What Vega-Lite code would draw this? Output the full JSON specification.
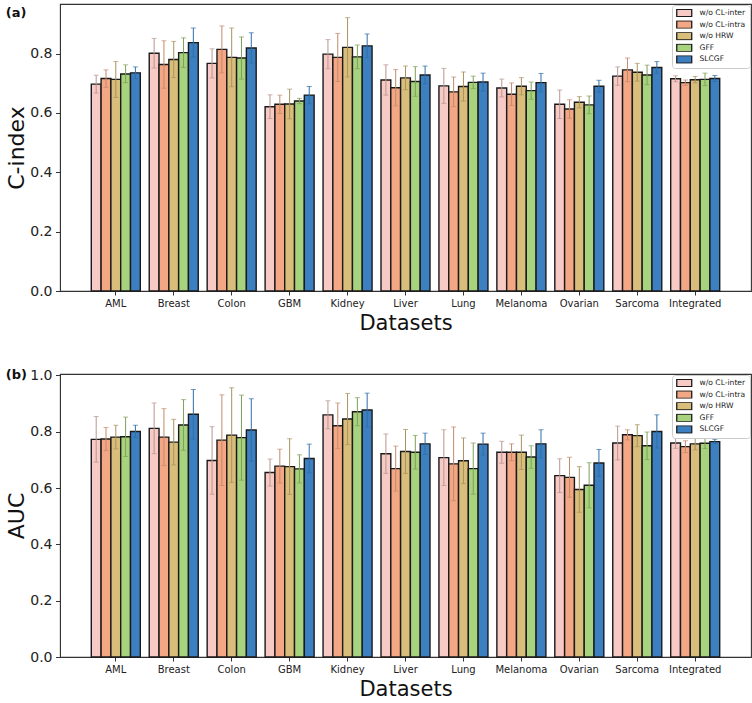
{
  "$schema": "https://vega.github.io/schema/vega-lite/v6.json",
  "background": "white",
  "padding": {"left": 5, "top": 3, "right": 3, "bottom": 2},
  "spacing": 33,
  "config": {
    "font": "DejaVu Sans",
    "view": {"stroke": "#333333", "strokeWidth": 1.1},
    "axis": {
      "grid": false,
      "domainColor": "#333333",
      "tickColor": "#333333",
      "labelColor": "#222222",
      "titleColor": "#111111",
      "titleFontWeight": "normal",
      "labelFont": "DejaVu Sans",
      "titleFont": "DejaVu Sans"
    },
    "legend": {
      "orient": "top-right",
      "offset": 1,
      "labelFontSize": 7.6,
      "labelColor": "#222222",
      "symbolType": "M-1,-1H3V1H-1Z",
      "symbolSize": 56,
      "symbolStrokeColor": "#1a1a1a",
      "symbolStrokeWidth": 1.3,
      "symbolOpacity": 1,
      "clipHeight": 8,
      "rowPadding": 3.6,
      "padding": 4,
      "labelOffset": 14.5,
      "strokeColor": "#cccccc",
      "fillColor": "white",
      "cornerRadius": 3
    },
    "title": {"font": "DejaVu Sans", "color": "#111111"}
  },
  "datasets": {
    "cindex": [
      {"dataset": "AML", "method": "w/o CL-inter", "value": 0.697, "lo": 0.667, "hi": 0.727},
      {"dataset": "AML", "method": "w/o CL-intra", "value": 0.716, "lo": 0.686, "hi": 0.745},
      {"dataset": "AML", "method": "w/o HRW", "value": 0.713, "lo": 0.652, "hi": 0.773},
      {"dataset": "AML", "method": "GFF", "value": 0.731, "lo": 0.702, "hi": 0.762},
      {"dataset": "AML", "method": "SLCGF", "value": 0.735, "lo": 0.716, "hi": 0.755},
      {"dataset": "Breast", "method": "w/o CL-inter", "value": 0.801, "lo": 0.751, "hi": 0.851},
      {"dataset": "Breast", "method": "w/o CL-intra", "value": 0.763, "lo": 0.683, "hi": 0.843},
      {"dataset": "Breast", "method": "w/o HRW", "value": 0.780, "lo": 0.719, "hi": 0.841},
      {"dataset": "Breast", "method": "GFF", "value": 0.803, "lo": 0.753, "hi": 0.853},
      {"dataset": "Breast", "method": "SLCGF", "value": 0.837, "lo": 0.788, "hi": 0.886},
      {"dataset": "Colon", "method": "w/o CL-inter", "value": 0.767, "lo": 0.718, "hi": 0.816},
      {"dataset": "Colon", "method": "w/o CL-intra", "value": 0.814, "lo": 0.735, "hi": 0.893},
      {"dataset": "Colon", "method": "w/o HRW", "value": 0.787, "lo": 0.688, "hi": 0.886},
      {"dataset": "Colon", "method": "GFF", "value": 0.785, "lo": 0.714, "hi": 0.856},
      {"dataset": "Colon", "method": "SLCGF", "value": 0.819, "lo": 0.768, "hi": 0.870},
      {"dataset": "GBM", "method": "w/o CL-inter", "value": 0.621, "lo": 0.581, "hi": 0.661},
      {"dataset": "GBM", "method": "w/o CL-intra", "value": 0.629, "lo": 0.598, "hi": 0.660},
      {"dataset": "GBM", "method": "w/o HRW", "value": 0.630, "lo": 0.580, "hi": 0.680},
      {"dataset": "GBM", "method": "GFF", "value": 0.640, "lo": 0.631, "hi": 0.649},
      {"dataset": "GBM", "method": "SLCGF", "value": 0.660, "lo": 0.631, "hi": 0.689},
      {"dataset": "Kidney", "method": "w/o CL-inter", "value": 0.798, "lo": 0.749, "hi": 0.847},
      {"dataset": "Kidney", "method": "w/o CL-intra", "value": 0.787, "lo": 0.706, "hi": 0.868},
      {"dataset": "Kidney", "method": "w/o HRW", "value": 0.821, "lo": 0.721, "hi": 0.921},
      {"dataset": "Kidney", "method": "GFF", "value": 0.789, "lo": 0.749, "hi": 0.829},
      {"dataset": "Kidney", "method": "SLCGF", "value": 0.826, "lo": 0.786, "hi": 0.866},
      {"dataset": "Liver", "method": "w/o CL-inter", "value": 0.711, "lo": 0.660, "hi": 0.762},
      {"dataset": "Liver", "method": "w/o CL-intra", "value": 0.685, "lo": 0.624, "hi": 0.746},
      {"dataset": "Liver", "method": "w/o HRW", "value": 0.718, "lo": 0.678, "hi": 0.758},
      {"dataset": "Liver", "method": "GFF", "value": 0.706, "lo": 0.656, "hi": 0.756},
      {"dataset": "Liver", "method": "SLCGF", "value": 0.728, "lo": 0.698, "hi": 0.758},
      {"dataset": "Lung", "method": "w/o CL-inter", "value": 0.691, "lo": 0.632, "hi": 0.750},
      {"dataset": "Lung", "method": "w/o CL-intra", "value": 0.671, "lo": 0.621, "hi": 0.721},
      {"dataset": "Lung", "method": "w/o HRW", "value": 0.689, "lo": 0.640, "hi": 0.738},
      {"dataset": "Lung", "method": "GFF", "value": 0.703, "lo": 0.682, "hi": 0.724},
      {"dataset": "Lung", "method": "SLCGF", "value": 0.704, "lo": 0.674, "hi": 0.734},
      {"dataset": "Melanoma", "method": "w/o CL-inter", "value": 0.684, "lo": 0.654, "hi": 0.714},
      {"dataset": "Melanoma", "method": "w/o CL-intra", "value": 0.663, "lo": 0.625, "hi": 0.701},
      {"dataset": "Melanoma", "method": "w/o HRW", "value": 0.690, "lo": 0.661, "hi": 0.719},
      {"dataset": "Melanoma", "method": "GFF", "value": 0.675, "lo": 0.646, "hi": 0.704},
      {"dataset": "Melanoma", "method": "SLCGF", "value": 0.702, "lo": 0.671, "hi": 0.733},
      {"dataset": "Ovarian", "method": "w/o CL-inter", "value": 0.629, "lo": 0.581, "hi": 0.677},
      {"dataset": "Ovarian", "method": "w/o CL-intra", "value": 0.613, "lo": 0.582, "hi": 0.644},
      {"dataset": "Ovarian", "method": "w/o HRW", "value": 0.636, "lo": 0.617, "hi": 0.655},
      {"dataset": "Ovarian", "method": "GFF", "value": 0.627, "lo": 0.597, "hi": 0.657},
      {"dataset": "Ovarian", "method": "SLCGF", "value": 0.690, "lo": 0.670, "hi": 0.710},
      {"dataset": "Sarcoma", "method": "w/o CL-inter", "value": 0.724, "lo": 0.693, "hi": 0.755},
      {"dataset": "Sarcoma", "method": "w/o CL-intra", "value": 0.745, "lo": 0.705, "hi": 0.785},
      {"dataset": "Sarcoma", "method": "w/o HRW", "value": 0.737, "lo": 0.707, "hi": 0.767},
      {"dataset": "Sarcoma", "method": "GFF", "value": 0.728, "lo": 0.695, "hi": 0.761},
      {"dataset": "Sarcoma", "method": "SLCGF", "value": 0.753, "lo": 0.733, "hi": 0.773},
      {"dataset": "Integrated", "method": "w/o CL-inter", "value": 0.715, "lo": 0.705, "hi": 0.725},
      {"dataset": "Integrated", "method": "w/o CL-intra", "value": 0.702, "lo": 0.693, "hi": 0.711},
      {"dataset": "Integrated", "method": "w/o HRW", "value": 0.712, "lo": 0.701, "hi": 0.723},
      {"dataset": "Integrated", "method": "GFF", "value": 0.713, "lo": 0.692, "hi": 0.734},
      {"dataset": "Integrated", "method": "SLCGF", "value": 0.716, "lo": 0.706, "hi": 0.726}
    ],
    "auc": [
      {"dataset": "AML", "method": "w/o CL-inter", "value": 0.773, "lo": 0.692, "hi": 0.854},
      {"dataset": "AML", "method": "w/o CL-intra", "value": 0.774, "lo": 0.733, "hi": 0.815},
      {"dataset": "AML", "method": "w/o HRW", "value": 0.781, "lo": 0.739, "hi": 0.823},
      {"dataset": "AML", "method": "GFF", "value": 0.782, "lo": 0.712, "hi": 0.852},
      {"dataset": "AML", "method": "SLCGF", "value": 0.801, "lo": 0.779, "hi": 0.823},
      {"dataset": "Breast", "method": "w/o CL-inter", "value": 0.812, "lo": 0.722, "hi": 0.902},
      {"dataset": "Breast", "method": "w/o CL-intra", "value": 0.781, "lo": 0.680, "hi": 0.882},
      {"dataset": "Breast", "method": "w/o HRW", "value": 0.763, "lo": 0.682, "hi": 0.844},
      {"dataset": "Breast", "method": "GFF", "value": 0.824, "lo": 0.734, "hi": 0.914},
      {"dataset": "Breast", "method": "SLCGF", "value": 0.862, "lo": 0.774, "hi": 0.950},
      {"dataset": "Colon", "method": "w/o CL-inter", "value": 0.698, "lo": 0.578, "hi": 0.818},
      {"dataset": "Colon", "method": "w/o CL-intra", "value": 0.770, "lo": 0.609, "hi": 0.931},
      {"dataset": "Colon", "method": "w/o HRW", "value": 0.788, "lo": 0.620, "hi": 0.956},
      {"dataset": "Colon", "method": "GFF", "value": 0.779, "lo": 0.628, "hi": 0.930},
      {"dataset": "Colon", "method": "SLCGF", "value": 0.806, "lo": 0.695, "hi": 0.917},
      {"dataset": "GBM", "method": "w/o CL-inter", "value": 0.655, "lo": 0.607, "hi": 0.703},
      {"dataset": "GBM", "method": "w/o CL-intra", "value": 0.678, "lo": 0.618, "hi": 0.738},
      {"dataset": "GBM", "method": "w/o HRW", "value": 0.676, "lo": 0.577, "hi": 0.775},
      {"dataset": "GBM", "method": "GFF", "value": 0.668, "lo": 0.618, "hi": 0.718},
      {"dataset": "GBM", "method": "SLCGF", "value": 0.705, "lo": 0.654, "hi": 0.756},
      {"dataset": "Kidney", "method": "w/o CL-inter", "value": 0.860, "lo": 0.810, "hi": 0.910},
      {"dataset": "Kidney", "method": "w/o CL-intra", "value": 0.821, "lo": 0.740, "hi": 0.902},
      {"dataset": "Kidney", "method": "w/o HRW", "value": 0.845, "lo": 0.754, "hi": 0.936},
      {"dataset": "Kidney", "method": "GFF", "value": 0.871, "lo": 0.821, "hi": 0.921},
      {"dataset": "Kidney", "method": "SLCGF", "value": 0.877, "lo": 0.817, "hi": 0.937},
      {"dataset": "Liver", "method": "w/o CL-inter", "value": 0.722, "lo": 0.652, "hi": 0.792},
      {"dataset": "Liver", "method": "w/o CL-intra", "value": 0.669, "lo": 0.589, "hi": 0.749},
      {"dataset": "Liver", "method": "w/o HRW", "value": 0.730, "lo": 0.652, "hi": 0.808},
      {"dataset": "Liver", "method": "GFF", "value": 0.727, "lo": 0.667, "hi": 0.787},
      {"dataset": "Liver", "method": "SLCGF", "value": 0.757, "lo": 0.719, "hi": 0.795},
      {"dataset": "Lung", "method": "w/o CL-inter", "value": 0.708, "lo": 0.609, "hi": 0.807},
      {"dataset": "Lung", "method": "w/o CL-intra", "value": 0.686, "lo": 0.555, "hi": 0.817},
      {"dataset": "Lung", "method": "w/o HRW", "value": 0.697, "lo": 0.616, "hi": 0.778},
      {"dataset": "Lung", "method": "GFF", "value": 0.669, "lo": 0.578, "hi": 0.760},
      {"dataset": "Lung", "method": "SLCGF", "value": 0.756, "lo": 0.717, "hi": 0.795},
      {"dataset": "Melanoma", "method": "w/o CL-inter", "value": 0.727, "lo": 0.688, "hi": 0.766},
      {"dataset": "Melanoma", "method": "w/o CL-intra", "value": 0.727, "lo": 0.697, "hi": 0.757},
      {"dataset": "Melanoma", "method": "w/o HRW", "value": 0.727, "lo": 0.666, "hi": 0.788},
      {"dataset": "Melanoma", "method": "GFF", "value": 0.710, "lo": 0.670, "hi": 0.750},
      {"dataset": "Melanoma", "method": "SLCGF", "value": 0.757, "lo": 0.707, "hi": 0.807},
      {"dataset": "Ovarian", "method": "w/o CL-inter", "value": 0.644, "lo": 0.584, "hi": 0.704},
      {"dataset": "Ovarian", "method": "w/o CL-intra", "value": 0.638, "lo": 0.567, "hi": 0.709},
      {"dataset": "Ovarian", "method": "w/o HRW", "value": 0.595, "lo": 0.514, "hi": 0.676},
      {"dataset": "Ovarian", "method": "GFF", "value": 0.610, "lo": 0.530, "hi": 0.690},
      {"dataset": "Ovarian", "method": "SLCGF", "value": 0.689, "lo": 0.641, "hi": 0.737},
      {"dataset": "Sarcoma", "method": "w/o CL-inter", "value": 0.760, "lo": 0.700, "hi": 0.820},
      {"dataset": "Sarcoma", "method": "w/o CL-intra", "value": 0.789, "lo": 0.771, "hi": 0.807},
      {"dataset": "Sarcoma", "method": "w/o HRW", "value": 0.786, "lo": 0.747, "hi": 0.825},
      {"dataset": "Sarcoma", "method": "GFF", "value": 0.750, "lo": 0.701, "hi": 0.799},
      {"dataset": "Sarcoma", "method": "SLCGF", "value": 0.801, "lo": 0.742, "hi": 0.860},
      {"dataset": "Integrated", "method": "w/o CL-inter", "value": 0.760, "lo": 0.741, "hi": 0.779},
      {"dataset": "Integrated", "method": "w/o CL-intra", "value": 0.747, "lo": 0.726, "hi": 0.768},
      {"dataset": "Integrated", "method": "w/o HRW", "value": 0.757, "lo": 0.736, "hi": 0.778},
      {"dataset": "Integrated", "method": "GFF", "value": 0.759, "lo": 0.740, "hi": 0.778},
      {"dataset": "Integrated", "method": "SLCGF", "value": 0.765, "lo": 0.757, "hi": 0.773}
    ]
  },
  "vconcat": [
    {
      "width": 691,
      "height": 287,
      "title": {"text": "(a)", "anchor": "start", "frame": "bounds", "offset": -16, "fontSize": 13, "fontWeight": "bold"},
      "data": {"name": "cindex"},
      "encoding": {
        "x": {
          "field": "dataset", "type": "nominal",
          "sort": ["AML", "Breast", "Colon", "GBM", "Kidney", "Liver", "Lung", "Melanoma", "Ovarian", "Sarcoma", "Integrated"],
          "scale": {"paddingInner": 0.154, "paddingOuter": 0.54},
          "axis": {"title": "Datasets", "titleFontSize": 21, "labelFontSize": 10, "labelAngle": 0, "tickSize": 4, "labelPadding": 3, "titlePadding": 4}
        },
        "xOffset": {
          "field": "method", "type": "nominal",
          "sort": ["w/o CL-inter", "w/o CL-intra", "w/o HRW", "GFF", "SLCGF"],
          "scale": {"paddingInner": 0, "paddingOuter": 0}
        }
      },
      "layer": [
        {
          "mark": {"type": "bar", "stroke": "#1a1a1a", "strokeWidth": 1.4},
          "encoding": {
            "y": {
              "field": "value", "type": "quantitative",
              "scale": {"domain": [0, 0.967], "nice": false},
              "axis": {"title": "C-index", "titleFontSize": 22, "labelFontSize": 14, "values": [0, 0.2, 0.4, 0.6, 0.8], "format": ".1f", "tickSize": 4.5, "labelPadding": 3.5, "titlePadding": 1}
            },
            "fill": {
              "field": "method", "type": "nominal", "title": null,
              "sort": ["w/o CL-inter", "w/o CL-intra", "w/o HRW", "GFF", "SLCGF"],
              "scale": {"domain": ["w/o CL-inter", "w/o CL-intra", "w/o HRW", "GFF", "SLCGF"], "range": ["#f7cac5", "#f4a784", "#d9bd7b", "#a8d37e", "#3c80c2"]}
            }
          }
        },
        {
          "mark": {"type": "rule", "strokeWidth": 1},
          "encoding": {
            "y": {"field": "lo", "type": "quantitative"},
            "y2": {"field": "hi"},
            "color": {
              "field": "method", "type": "nominal", "legend": null,
              "scale": {"domain": ["w/o CL-inter", "w/o CL-intra", "w/o HRW", "GFF", "SLCGF"], "range": ["#b8958f", "#c28a6c", "#a8935f", "#7f9f58", "#2f6ea8"]}
            }
          }
        },
        {
          "mark": {"type": "tick", "size": 5, "thickness": 1},
          "encoding": {
            "y": {"field": "lo", "type": "quantitative"},
            "color": {"field": "method", "type": "nominal", "legend": null}
          }
        },
        {
          "mark": {"type": "tick", "size": 5, "thickness": 1},
          "encoding": {
            "y": {"field": "hi", "type": "quantitative"},
            "color": {"field": "method", "type": "nominal", "legend": null}
          }
        }
      ]
    },
    {
      "width": 691,
      "height": 283,
      "title": {"text": "(b)", "anchor": "start", "frame": "bounds", "offset": -14, "fontSize": 13, "fontWeight": "bold"},
      "data": {"name": "auc"},
      "encoding": {
        "x": {
          "field": "dataset", "type": "nominal",
          "sort": ["AML", "Breast", "Colon", "GBM", "Kidney", "Liver", "Lung", "Melanoma", "Ovarian", "Sarcoma", "Integrated"],
          "scale": {"paddingInner": 0.154, "paddingOuter": 0.54},
          "axis": {"title": "Datasets", "titleFontSize": 21, "labelFontSize": 10, "labelAngle": 0, "tickSize": 4, "labelPadding": 3, "titlePadding": 4}
        },
        "xOffset": {
          "field": "method", "type": "nominal",
          "sort": ["w/o CL-inter", "w/o CL-intra", "w/o HRW", "GFF", "SLCGF"],
          "scale": {"paddingInner": 0, "paddingOuter": 0}
        }
      },
      "layer": [
        {
          "mark": {"type": "bar", "stroke": "#1a1a1a", "strokeWidth": 1.4},
          "encoding": {
            "y": {
              "field": "value", "type": "quantitative",
              "scale": {"domain": [0, 1.005], "nice": false},
              "axis": {"title": "AUC", "titleFontSize": 22, "labelFontSize": 14, "values": [0, 0.2, 0.4, 0.6, 0.8, 1.0], "format": ".1f", "tickSize": 4.5, "labelPadding": 3.5, "titlePadding": 1}
            },
            "fill": {
              "field": "method", "type": "nominal", "title": null,
              "sort": ["w/o CL-inter", "w/o CL-intra", "w/o HRW", "GFF", "SLCGF"],
              "scale": {"domain": ["w/o CL-inter", "w/o CL-intra", "w/o HRW", "GFF", "SLCGF"], "range": ["#f7cac5", "#f4a784", "#d9bd7b", "#a8d37e", "#3c80c2"]}
            }
          }
        },
        {
          "mark": {"type": "rule", "strokeWidth": 1},
          "encoding": {
            "y": {"field": "lo", "type": "quantitative"},
            "y2": {"field": "hi"},
            "color": {
              "field": "method", "type": "nominal", "legend": null,
              "scale": {"domain": ["w/o CL-inter", "w/o CL-intra", "w/o HRW", "GFF", "SLCGF"], "range": ["#b8958f", "#c28a6c", "#a8935f", "#7f9f58", "#2f6ea8"]}
            }
          }
        },
        {
          "mark": {"type": "tick", "size": 5, "thickness": 1},
          "encoding": {
            "y": {"field": "lo", "type": "quantitative"},
            "color": {"field": "method", "type": "nominal", "legend": null}
          }
        },
        {
          "mark": {"type": "tick", "size": 5, "thickness": 1},
          "encoding": {
            "y": {"field": "hi", "type": "quantitative"},
            "color": {"field": "method", "type": "nominal", "legend": null}
          }
        }
      ]
    }
  ],
  "resolve": {"legend": {"fill": "independent"}}
}
